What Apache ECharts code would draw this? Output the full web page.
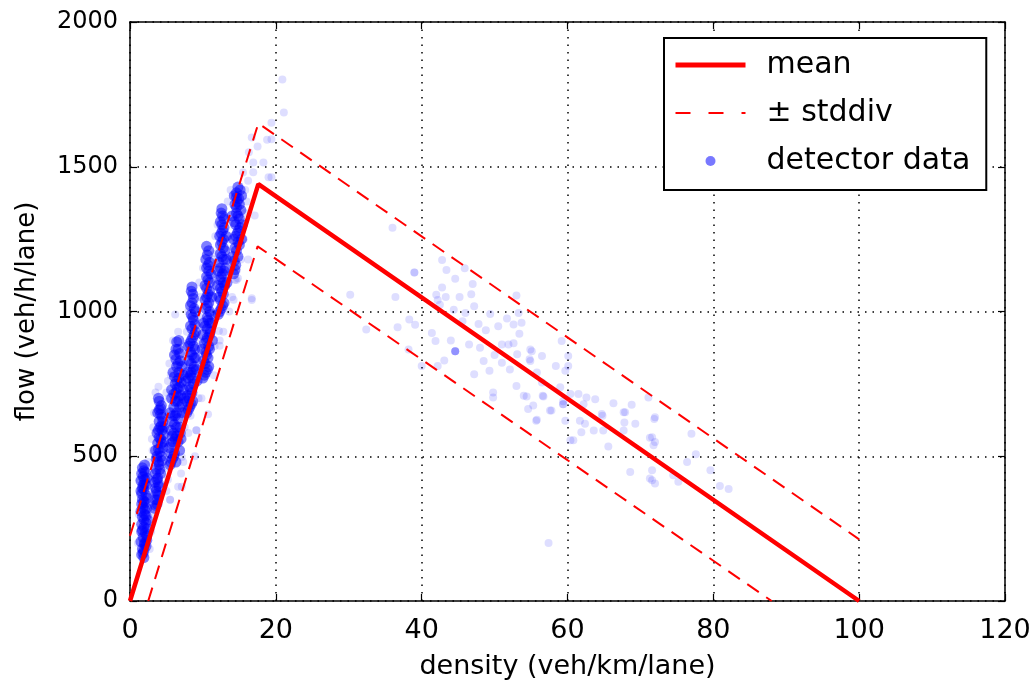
<!DOCTYPE html>
<html>
<head>
<meta charset="utf-8">
<script src="https://cdn.jsdelivr.net/npm/echarts@6/dist/echarts.min.js"></script>
<style>html,body{margin:0;padding:0;background:#fff}#c{width:1034px;height:685px}</style>
</head>
<body>
<div id="c"></div>
<script>
const xRange = [0, 120];
const yRange = [0, 2000];
const xStep = 20;
const yStep = 500;
const xTitle = 'density (veh/km/lane)';
const yTitle = 'flow (veh/h/lane)';
const legendNames = ['mean', '\u00b1 stddiv', 'detector data'];

const meanLine = [[0, 0], [17.6, 1440], [100, 0]];
const upperStd = [[0, 225], [17.6, 1650], [100, 213]];
const lowerStd = [[2.5, 0], [17.5, 1225], [88, 0]];

// dense detector clusters (free-flow regime)
const detectorDense = [
  [1.6,160],[1.9,175],[2.2,190],[1.5,205],[1.8,220],[2.1,235],[2.4,250],[1.6,265],[1.9,280],[2.2,295],
  [1.5,310],[1.8,325],[2.1,340],[2.4,355],[1.6,370],[1.9,385],[2.2,400],[1.5,415],[1.8,430],[2.1,445],
  [1.7,460],[2.0,470],[1.9,150],[2.3,210],[1.7,245],[2.0,300],[1.7,350],[2.0,420],[2.3,320],[1.8,400],
  [2.0,200],[1.6,440],
  [1.7,180],[2.0,195],[2.3,225],[1.6,240],[1.9,255],[2.2,270],[1.7,290],[2.0,315],[1.6,335],[1.9,345],
  [2.2,365],[1.7,390],[2.0,405],[2.3,425],[1.9,450],[1.5,380],[2.4,280],[1.8,165],
  [3.4,320],[3.7,335],[3.5,350],[3.9,365],[3.6,380],[4.0,395],[3.4,410],[3.8,425],[4.2,440],[3.6,455],
  [4.0,470],[4.4,485],[3.7,500],[4.1,515],[4.5,530],[3.8,545],[4.2,560],[4.6,575],[3.9,590],[4.3,605],
  [4.0,620],[4.4,635],[3.8,650],[4.2,665],[4.0,690],[3.5,440],[3.5,520],[4.6,600],[3.7,580],
  [3.5,330],[3.8,350],[3.7,370],[3.5,390],[3.9,405],[3.7,420],[4.1,455],[3.9,480],[4.3,500],[3.9,525],
  [4.3,545],[4.0,565],[4.4,590],[4.1,600],[4.2,645],[4.0,660],[4.3,675],[3.6,490],[4.6,550],[3.9,700],
  [4.5,620],
  [5.5,470],[5.8,490],[6.1,510],[5.4,530],[5.9,550],[6.4,570],[5.6,590],[6.1,610],[6.6,630],[5.5,650],
  [6.0,670],[6.5,690],[7.0,710],[5.7,730],[6.2,750],[6.7,770],[5.9,790],[6.4,810],[6.9,830],[6.1,850],
  [6.6,870],[6.4,895],[6.9,600],[7.2,650],[7.4,700],[7.0,560],[6.8,520],[6.3,480],[5.7,700],[6.2,640],
  [6.8,740],[7.3,780],[5.8,620],[6.3,720],[6.6,550],
  [5.6,480],[6.0,500],[5.6,510],[5.7,545],[6.2,560],[6.0,580],[6.4,600],[5.9,640],[6.4,650],[6.8,670],
  [6.2,690],[6.6,705],[6.0,715],[6.5,735],[7.0,755],[6.4,760],[6.1,775],[6.7,790],[6.6,820],[6.3,835],
  [6.8,855],[6.3,870],[6.7,900],[7.1,680],[7.3,730],[7.1,810],[5.8,570],[6.9,580],
  [7.8,650],[8.2,670],[8.6,690],[7.9,710],[8.3,730],[8.7,750],[8.0,770],[8.4,790],[8.8,810],[8.1,830],
  [8.5,850],[8.9,870],[8.2,890],[8.6,910],[9.0,930],[8.3,950],[8.7,970],[8.4,990],[8.8,1010],[8.5,1030],
  [8.6,1060],[8.5,1085],[9.1,800],[9.2,760],[7.7,760],[8.0,880],[9.0,1000],
  [8.0,660],[8.4,680],[8.1,700],[8.5,720],[8.2,740],[8.6,770],[8.3,780],[8.7,800],[8.4,820],[8.8,840],
  [8.3,860],[8.7,880],[8.4,900],[8.8,920],[8.5,940],[8.9,955],[8.6,980],[8.3,1020],[8.7,1045],[8.4,1070],
  [7.9,790],[9.0,840],[7.8,690],
  [10.0,770],[10.4,790],[10.8,810],[10.1,830],[10.5,850],[10.9,870],[10.2,890],[10.6,910],[11.0,930],[10.3,950],
  [10.7,970],[11.1,990],[10.4,1010],[10.8,1030],[10.5,1050],[10.9,1070],[10.3,1090],[10.7,1110],[11.1,1130],[10.5,1150],
  [10.9,1170],[10.6,1195],[10.5,1225],[11.3,900],[9.9,870],[10.1,960],[11.2,1050],
  [10.2,780],[10.6,800],[10.3,820],[10.7,840],[10.4,860],[10.8,880],[10.5,900],[10.9,920],[10.6,940],[10.9,960],
  [10.6,980],[10.9,1000],[10.6,1020],[10.3,1040],[10.7,1060],[10.5,1080],[10.9,1100],[10.5,1120],[10.8,1140],[10.7,1160],
  [10.4,1180],[10.8,1210],[11.2,960],[10.0,920],
  [12.1,990],[12.5,1010],[12.9,1030],[12.2,1050],[12.6,1070],[13.0,1090],[12.3,1110],[12.7,1130],[13.1,1150],[12.2,1170],
  [12.6,1190],[13.0,1210],[12.4,1230],[12.8,1250],[12.5,1270],[12.9,1290],[12.4,1310],[12.7,1330],[12.6,1355],[13.3,1100],
  [13.2,1260],[12.0,1090],
  [12.3,1000],[12.7,1020],[12.4,1040],[12.8,1060],[12.4,1080],[12.8,1100],[12.5,1120],[12.9,1140],[12.4,1150],[12.8,1180],
  [12.4,1200],[12.8,1220],[12.6,1240],[12.3,1260],[12.7,1280],[12.6,1300],[12.9,1320],[12.5,1340],[13.2,1180],[12.1,1140],
  [14.2,1130],[14.5,1160],[14.1,1190],[14.6,1210],[15.0,1230],[14.2,1250],[14.7,1270],[15.1,1290],[14.3,1310],[14.8,1330],
  [15.2,1350],[14.4,1370],[14.9,1390],[14.6,1410],[14.8,1430],[15.3,1400],[14.0,1330],[15.4,1300],
  [14.4,1145],[14.3,1175],[14.8,1190],[14.4,1220],[14.8,1240],[14.5,1260],[14.9,1280],[14.5,1300],[15.0,1320],[14.6,1340],
  [14.6,1360],[15.0,1370],[14.7,1380],[14.6,1395],[15.1,1420],[14.3,1400],[15.3,1250]
];

// scattered detector readings
const detectorSparse = [
  [1.2,300],[2.7,180],[2.9,240],[1.3,420],[2.5,480],[3.0,300],[3.1,520],[3.3,650],[3.5,720],[3.9,740],
  [4.8,460],[5.0,380],[5.2,420],[5.5,350],[5.3,700],[5.6,780],[6.2,990],[6.6,930],[7.1,395],[7.3,480],
  [7.0,440],[7.6,880],[8.0,1000],[9.1,590],[8.9,500],[9.4,700],[9.6,1050],[10.0,1150],[10.7,645],[11.5,780],
  [11.8,1200],[12.3,900],[12.8,930],[13.5,1250],[13.4,1380],[14.0,1050],[14.4,1110],[14.8,1115],[15.2,1180],[16.0,1380],
  [16.2,1452],[16.7,1601],[16.9,1515],[16.9,1481],[17.1,1332],[16.7,1046],[14.2,1041],[14.6,1138],[18.3,1515],[18.8,1593],
  [19.0,1464],[19.4,1652],[19.4,1595],[19.4,1464],[20.9,1801],[21.1,1687],[15.5,1480],[16.3,1550],[17.5,1570],[15.8,1420],
  [7.1,497],[6.6,395],[5.5,350],[9.1,590],[12.2,933],[12.3,882],[14.6,1109],[16.7,1040],
  [2.6,380],[2.8,420],[1.1,200],[3.0,560],[3.2,600],[4.7,650],[5.0,720],[5.2,760],[5.4,820],[5.9,900],
  [7.5,820],[7.8,930],[7.5,600],[8.0,580],[9.3,900],[9.5,1100],[9.7,980],[11.5,1050],[11.4,1180],[11.7,1260],
  [12.0,1300],[13.6,1180],[13.8,1420],[15.6,1250],[15.8,1340],[16.2,1180],[9.8,700],[11.6,880],[8.3,640],[13.6,1000],
  [36.0,1289],[39.0,1135],[39.0,1135],[30.2,1058],[36.4,1050],[32.4,938],[36.7,946],[38.3,972],[39.1,954],[38.2,869],
  [40.0,812],[41.4,926],[41.9,898],[42.8,1178],[43.4,1143],[44.6,1113],[42.8,1083],[42.0,1058],[43.3,1050],[45.2,1050],
  [47.0,1095],[45.9,1149],[44.6,863],[44.6,863],[44.6,863],[44.6,863],[43.1,831],[42.2,812],[42.5,1023],[44.4,1006],
  [46.0,995],[45.6,966],[47.2,1018],[49.4,991],[53.0,1055],[53.3,995],[47.8,957],[48.8,935],[50.5,949],[51.7,976],
  [52.6,955],[53.7,961],[53.4,923],[46.5,886],[48.0,875],[48.5,829],[49.3,795],[51.0,886],[51.9,886],[52.6,890],
  [51.0,823],[52.1,800],[53.1,852],[55.1,863],[54.9,829],[47.2,783],[49.8,720],[49.8,703],[53.0,743],[54.4,706],
  [55.8,789],[56.5,755],[56.7,706],[57.6,658],[55.8,626],[54.6,663],[58.4,812],[59.2,898],[59.7,795],[59.0,738],
  [59.4,680],[59.7,623],[60.4,715],[61.5,715],[62.6,703],[63.8,697],[62.2,680],[61.9,583],[60.8,555],[63.6,589],
  [64.8,640],[65.6,534],[66.3,683],[67.7,652],[68.8,678],[69.3,612],[68.6,446],[71.1,703],[71.6,566],[71.8,538],
  [71.6,452],[71.6,417],[57.4,200],[72.0,635],[60.1,846],[60.1,812],[54.9,869],[56.5,846],[54.8,835],[54.0,709],
  [55.3,675],[55.7,623],[56.6,709],[57.8,658],[59.4,680],[59.4,690],[61.7,623],[62.4,612],[60.4,555],[64.7,646],
  [67.9,652],[67.8,617],[67.7,589],[64.9,589],[71.9,629],[71.3,564],[72.0,549],[71.3,423],[72.0,406],[74.5,434],
  [75.2,412],[76.4,480],[77.0,578],[77.6,507],[79.6,452],[80.9,397],[82.1,387],[42.2,1040],[44.0,900],[50.0,850],
  [46.8,1060]
];

const chart = echarts.init(document.getElementById('c'), null, {renderer: 'canvas'});
const axisCommon = {
  type: 'value',
  axisLine: {show: true, onZero: false, lineStyle: {color: '#000', width: 1.5}},
  axisTick: {show: true, inside: true, length: 7, lineStyle: {color: '#000', width: 1.2}},
  splitLine: {show: false}
};
const font = '"DejaVu Sans", sans-serif';
const option = {
  animation: false,
  backgroundColor: '#fff',
  grid: {left: 130, right: 29, top: 22, bottom: 80, containLabel: false},
  legend: {
    orient: 'vertical',
    left: 664, top: 38,
    padding: [10, 16, 12, 9],
    itemGap: 14,
    itemWidth: 70, itemHeight: 10,
    borderColor: '#000', borderWidth: 2,
    backgroundColor: '#fff',
    borderRadius: 0,
    z: 20,
    textStyle: {fontFamily: font, fontSize: 30, color: '#000', lineHeight: 34, padding: [0, 0, 0, 16]},
    data: [
      {name: legendNames[0], itemStyle: {opacity: 0}, lineStyle: {width: 5, color: '#ff0000'}},
      {name: legendNames[1], itemStyle: {opacity: 0}, lineStyle: {width: 2, color: '#ff0000', type: [15, 18]}},
      {name: legendNames[2], icon: 'circle', itemStyle: {color: '#7878ff', opacity: 1}}
    ]
  },
  xAxis: [
    Object.assign({}, axisCommon, {
      min: xRange[0], max: xRange[1], interval: xStep, position: 'bottom',
      name: xTitle, nameLocation: 'middle', nameGap: 52,
      nameTextStyle: {fontFamily: font, fontSize: 27, color: '#000'},
      axisLabel: {show: true, margin: 16, fontFamily: font, fontSize: 27, color: '#000'},
      splitLine: {show: true, lineStyle: {color: '#000', width: 1.5, type: [1.5, 6]}}
    }),
    Object.assign({}, axisCommon, {
      min: xRange[0], max: xRange[1], interval: xStep, position: 'top',
      axisLabel: {show: false}
    })
  ],
  yAxis: [
    Object.assign({}, axisCommon, {
      min: yRange[0], max: yRange[1], interval: yStep, position: 'left',
      name: yTitle, nameLocation: 'middle', nameGap: 90, nameRotate: 90,
      nameTextStyle: {fontFamily: font, fontSize: 26, color: '#000'},
      axisLabel: {show: true, margin: 12, fontFamily: font, fontSize: 24, color: '#000',
        formatter: function (v) { return String(v); }},
      splitLine: {show: true, lineStyle: {color: '#000', width: 1.5, type: [1.5, 6]}}
    }),
    Object.assign({}, axisCommon, {
      min: yRange[0], max: yRange[1], interval: yStep, position: 'right',
      axisLabel: {show: false}
    })
  ],
  series: [
    {
      name: legendNames[2], type: 'scatter', data: detectorSparse,
      symbolSize: 8, z: 2,
      itemStyle: {color: '#0000ff', opacity: 0.13, borderWidth: 0}
    },
    {
      name: legendNames[2], type: 'scatter', data: detectorDense,
      symbolSize: 11, z: 3,
      itemStyle: {color: '#0000ff', opacity: 0.5, borderWidth: 0}
    },
    {
      name: legendNames[0], type: 'line', data: meanLine, symbol: 'none', z: 6,
      itemStyle: {color: '#ff0000'},
      lineStyle: {color: '#ff0000', width: 4.5}
    },
    {
      name: legendNames[1], type: 'line', data: upperStd, symbol: 'none', z: 5,
      itemStyle: {color: '#ff0000'},
      lineStyle: {color: '#ff0000', width: 2, type: [14, 9]}
    },
    {
      name: legendNames[1], type: 'line', data: lowerStd, symbol: 'none', z: 5,
      itemStyle: {color: '#ff0000'},
      lineStyle: {color: '#ff0000', width: 2, type: [14, 9]}
    }
  ]
};
chart.setOption(option);
</script>
</body>
</html>
